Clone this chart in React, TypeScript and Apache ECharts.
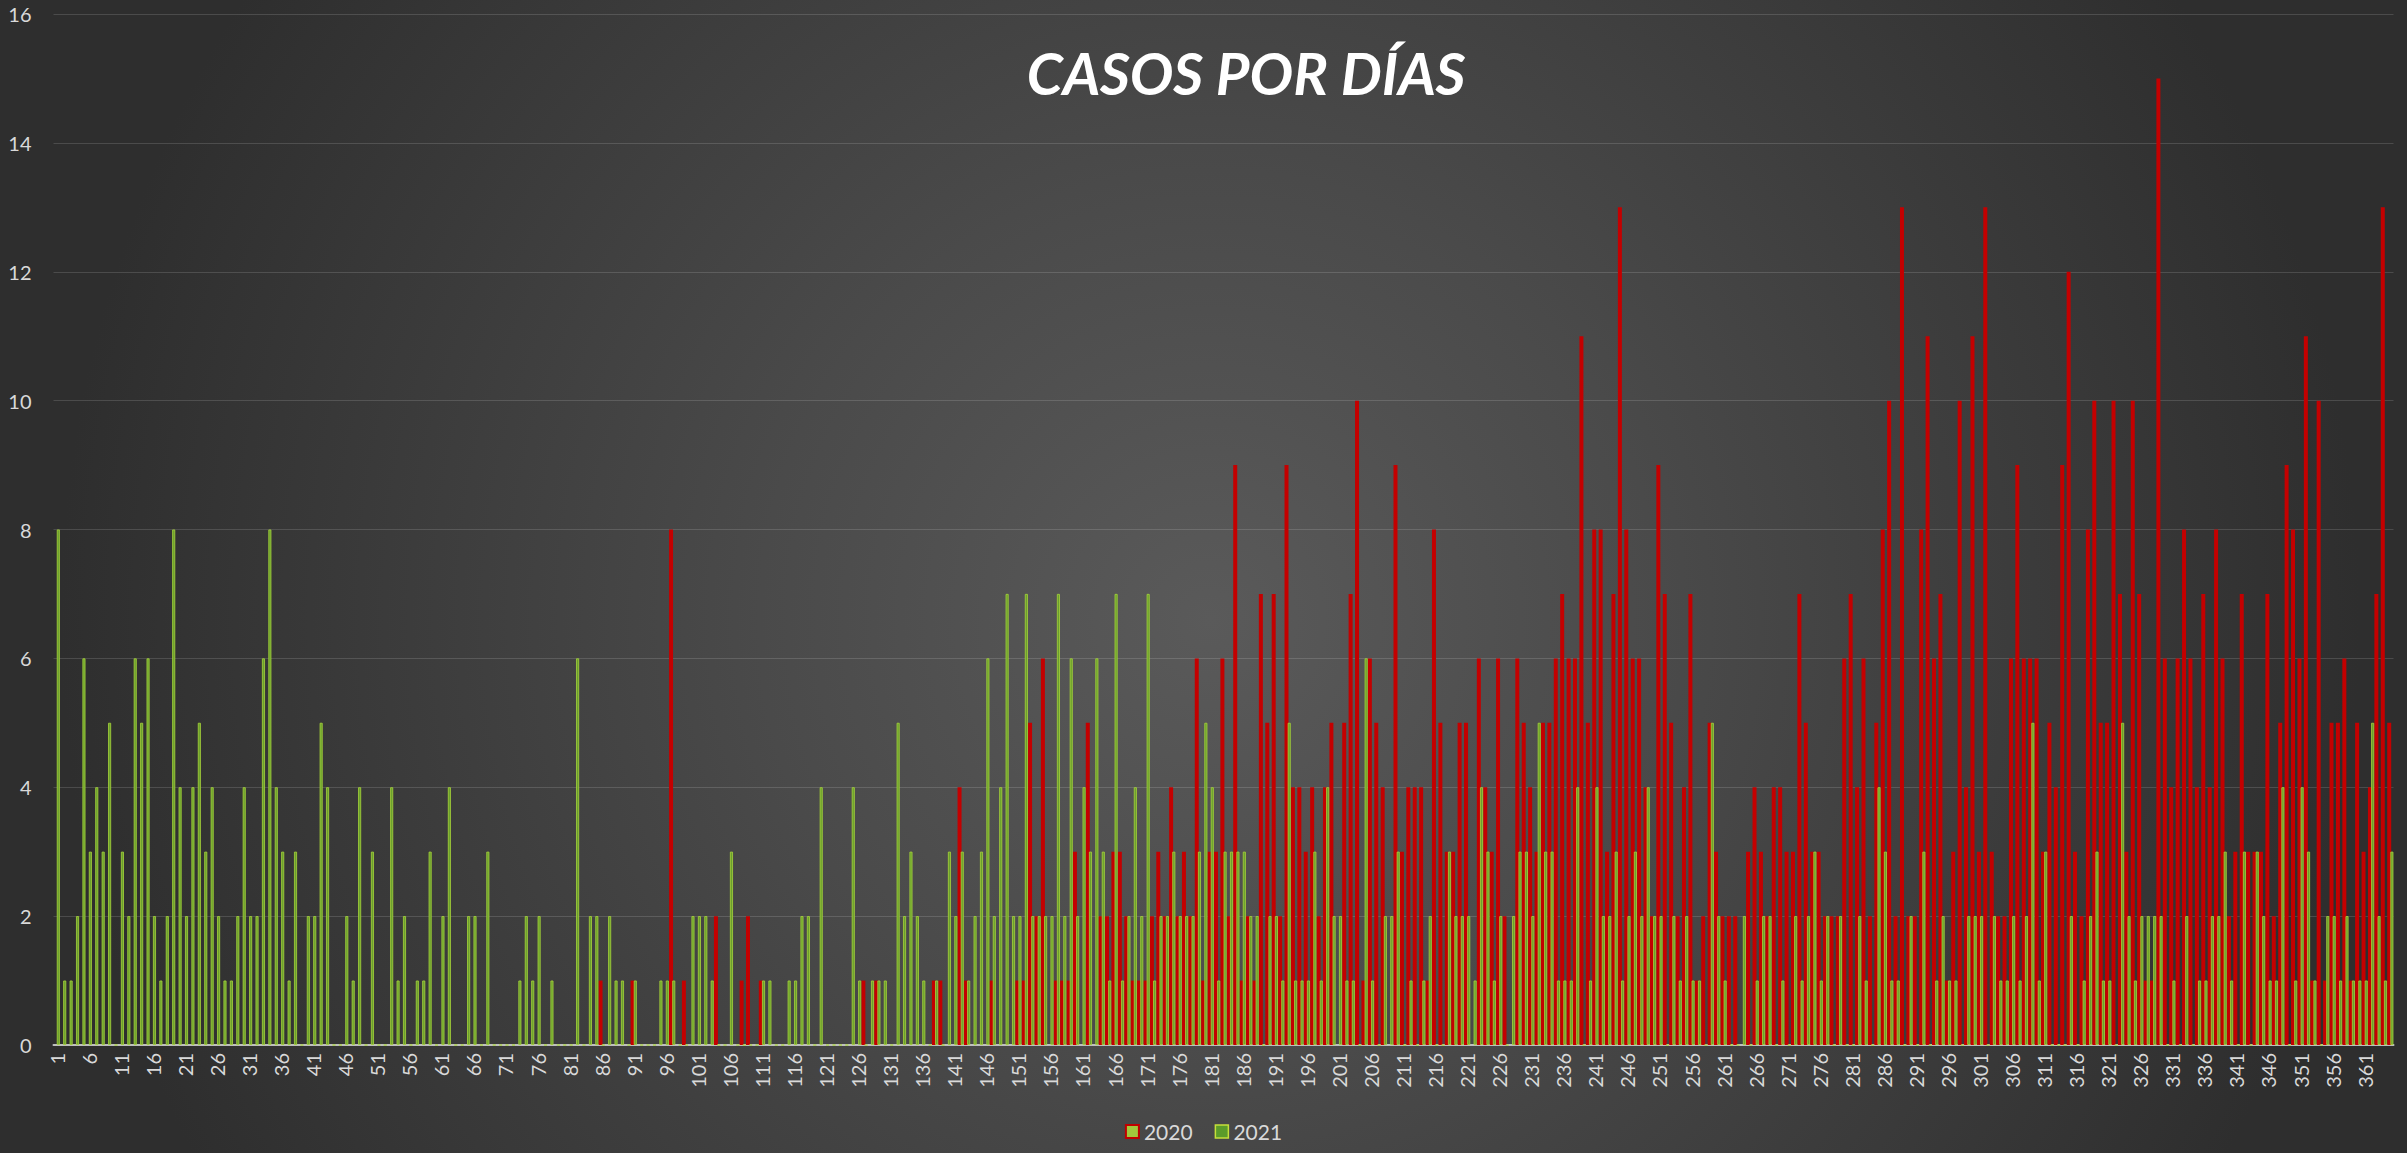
import React, { useEffect, useRef } from "react";
import * as echarts from "echarts";

const TITLE = "CASOS POR DÍAS";
const SERIES_NAMES = ["2020", "2021"];
const Y_TICKS = { min: 0, max: 16, interval: 2 };

// Day numbers 1..365 (category labels)
const days: string[] = [];
for (let d = 1; d <= 365; d++) days.push(String(d));

// 2020 daily cases (days 1..365)
const casos2020 = [
  0,0,0,0,0,0,0,0,0,0, 0,0,0,0,0,0,0,0,0,0,
  0,0,0,0,0,0,0,0,0,0, 0,0,0,0,0,0,0,0,0,0,
  0,0,0,0,0,0,0,0,0,0, 0,0,0,0,0,0,0,0,0,0,
  0,0,0,0,0,0,0,0,0,0, 0,0,0,0,0,0,0,0,0,0,
  0,0,0,0,0,1,0,0,0,0, 1,0,0,0,0,0,8,0,1,0,
  0,0,0,2,0,0,0,1,2,0, 1,0,0,0,0,0,0,0,0,0,
  0,0,0,0,0,0,1,0,1,0, 0,0,0,0,0,0,0,1,1,0,
  0,4,1,0,0,0,1,0,0,0, 1,1,5,2,6,0,1,1,1,3,
  0,5,0,2,2,3,3,2,1,1, 1,2,3,2,4,2,3,2,6,1,
  3,3,6,2,9,1,2,1,7,5, 7,2,9,4,4,3,4,2,4,5,
  0,5,7,10,1,6,5,4,0,9, 3,4,4,4,1,8,5,3,3,5,
  5,0,6,4,3,6,2,0,6,5, 4,3,5,5,6,7,6,6,11,5,
  8,8,3,7,13,8,6,6,4,2, 9,7,5,2,4,7,1,2,5,3,
  2,2,2,0,3,4,3,2,4,4, 3,3,7,5,3,3,2,2,2,6,
  7,4,6,2,5,8,10,2,13,2, 2,8,11,6,7,1,3,10,4,11,
  3,13,3,2,2,6,9,6,6,6, 3,5,4,9,12,3,2,8,10,5,
  5,10,7,3,10,7,1,1,15,6, 4,6,8,6,4,7,4,8,6,2,
  3,7,3,3,3,7,2,5,9,8, 6,11,1,10,1,5,5,6,1,5,
  3,4,7,13,5,
];

// 2021 daily cases (days 1..365)
const casos2021 = [
  8,1,1,2,6,3,4,3,5,0, 3,2,6,5,6,2,1,2,8,4,
  2,4,5,3,4,2,1,1,2,4, 2,2,6,8,4,3,1,3,0,2,
  2,5,4,0,0,2,1,4,0,3, 0,0,4,1,2,0,1,1,3,0,
  2,4,0,0,2,2,0,3,0,0, 0,0,1,2,1,2,0,1,0,0,
  0,6,0,2,2,0,2,1,1,0, 1,0,0,0,1,1,1,0,0,2,
  2,2,1,0,0,3,0,0,0,0, 1,1,0,0,1,1,2,2,0,4,
  0,0,0,0,4,1,0,1,1,1, 0,5,2,3,2,1,0,1,0,3,
  2,3,1,2,3,6,2,4,7,2, 2,7,2,2,2,2,7,2,6,2,
  4,3,6,3,1,7,1,2,4,2, 7,1,2,2,3,2,2,2,3,5,
  4,1,3,3,3,3,2,2,0,2, 2,1,5,1,1,1,3,1,4,2,
  2,1,1,0,6,1,0,2,2,3, 0,1,0,1,2,0,0,3,2,2,
  2,1,4,3,1,2,0,2,3,3, 2,5,3,3,1,1,1,4,0,1,
  4,2,2,3,1,2,3,2,4,2, 2,0,2,1,2,1,1,0,5,2,
  1,0,0,2,0,1,2,2,0,1, 0,2,1,2,3,1,2,0,2,0,
  0,2,1,0,4,3,1,1,0,2, 0,3,0,1,2,1,1,0,2,2,
  2,0,2,1,1,2,1,2,5,1, 3,0,0,0,2,0,1,2,3,1,
  1,0,5,2,1,2,2,2,2,0, 1,0,2,0,1,1,2,2,3,1,
  0,3,0,3,2,1,1,4,0,1, 4,3,1,0,2,2,1,2,1,1,
  1,5,2,1,3,
];

const FONT = "Lato, 'Open Sans', sans-serif";

export default function App() {
  const ref = useRef<HTMLDivElement>(null);

  useEffect(() => {
    document.body.style.margin = "0";
    if (!ref.current) return;
    const chart = echarts.init(ref.current, undefined, { renderer: "svg" });
    chart.setOption({
      animation: false,
      backgroundColor: "transparent",
      title: {
        text: TITLE,
        left: 1241,
        top: 38,
        textAlign: "center",
        textStyle: {
          color: "#ffffff",
          fontSize: 58,
          fontStyle: "italic",
          fontWeight: "bold",
          fontFamily: FONT,
        },
      },
      legend: {
        bottom: 6,
        left: "center",
        itemWidth: 13,
        itemHeight: 13,
        itemGap: 22,
        textStyle: { color: "#d9d9d9", fontSize: 21, fontFamily: FONT },
        data: [
          {
            name: SERIES_NAMES[0],
            icon: "rect",
            itemStyle: { color: "#a2c73c", borderColor: "#c00000", borderWidth: 2 },
          },
          {
            name: SERIES_NAMES[1],
            icon: "rect",
            itemStyle: { color: "#5b9b2a", borderColor: "#c5e03a", borderWidth: 1.5 },
          },
        ],
      },
      grid: { left: 53.5, right: 13.5, top: 14, bottom: 108, containLabel: false },
      xAxis: {
        type: "category",
        data: days,
        axisTick: { show: false },
        axisLine: { lineStyle: { color: "#bfbfbf", width: 2 } },
        axisLabel: {
          interval: 4,
          rotate: 90,
          color: "#d9d9d9",
          fontSize: 20,
          fontFamily: FONT,
          margin: 8,
        },
      },
      yAxis: {
        type: "value",
        min: Y_TICKS.min,
        max: Y_TICKS.max,
        interval: Y_TICKS.interval,
        axisLine: { show: false },
        axisTick: { show: false },
        axisLabel: { color: "#d9d9d9", fontSize: 20, fontFamily: FONT, margin: 22 },
        splitLine: { lineStyle: { color: "rgba(255,255,255,0.14)", width: 1 } },
      },
      series: [
        {
          name: SERIES_NAMES[0],
          type: "bar",
          data: casos2020,
          barWidth: 4,
          barGap: "-20%",
          itemStyle: { color: "#c40000" },
        },
        {
          name: SERIES_NAMES[1],
          type: "bar",
          data: casos2021,
          barWidth: 3,
          itemStyle: { color: "#6aa02e", borderColor: "#a8d43a", borderWidth: 0.8 },
        },
      ],
    });
    return () => chart.dispose();
  }, []);

  return (
    <div
      style={{
        width: 2407,
        height: 1153,
        background:
          "radial-gradient(circle at 1210px 620px, #5a5a5a 0px, #4a4a4a 450px, #3a3a3a 850px, #2e2e2e 1150px)",
      }}
    >
      <div ref={ref} style={{ width: 2407, height: 1153 }} />
    </div>
  );
}
